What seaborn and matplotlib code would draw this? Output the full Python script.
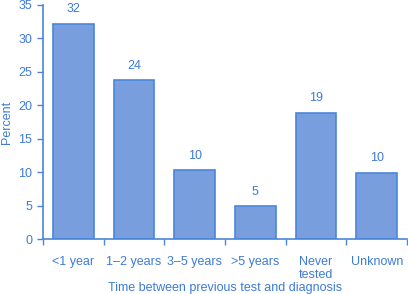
import pandas as pd
import matplotlib.pyplot as plt
import seaborn as sns

# data
categories = ['<1 year', '1\u20132 years', '3\u20135 years', '>5 years', 'Never\ntested', 'Unknown']
percent = [32.2, 23.8, 10.3, 4.9, 18.9, 9.9]
labels = ['32', '24', '10', '5', '19', '10']

blue_text = '#3d7bd6'
bar_fill = '#789ede'
bar_edge = '#4a86da'

sns.set_style('white')
plt.rcParams['font.family'] = ['Liberation Sans', 'DejaVu Sans']

df = pd.DataFrame({'cat': categories, 'pct': percent})

fig = plt.figure(figsize=(4.08, 2.94), dpi=100)
ax = fig.add_axes([0.105, 0.187, 0.893, 0.796])

sns.barplot(data=df, x='cat', y='pct', ax=ax, width=0.67,
            color=bar_fill, edgecolor=bar_edge, linewidth=1.2, saturation=1)

for i, (v, t) in enumerate(zip(percent, labels)):
    ax.annotate(t, (i, v), xytext=(0, 6), textcoords='offset points',
                ha='center', va='bottom', fontsize=9, color=blue_text)

ax.set_ylim(0, 35)
ax.set_xlim(-0.5, 5.5)
ax.set_yticks(range(0, 36, 5))
ax.set_xticks(range(len(categories)))
ax.set_xticklabels(categories, linespacing=1.1)
ax.set_xticks([i - 0.5 for i in range(len(categories) + 1)], minor=True)
ax.tick_params(axis='x', which='major', length=0, pad=12, labelsize=9, labelcolor=blue_text)
ax.tick_params(axis='x', which='minor', length=4, width=1, color=bar_edge, direction='out', bottom=True)
ax.tick_params(axis='y', length=4, width=1, color=bar_edge, left=True, labelsize=9, labelcolor=blue_text)

ax.set_xlabel('Time between previous test and diagnosis', fontsize=9, color=blue_text, labelpad=1)
ax.set_ylabel('Percent', fontsize=9, color=blue_text, labelpad=4)

sns.despine(ax=ax)
for s in ['left', 'bottom']:
    ax.spines[s].set_color(bar_edge)
    ax.spines[s].set_linewidth(1.2)

fig.savefig('out.png', dpi=100)
